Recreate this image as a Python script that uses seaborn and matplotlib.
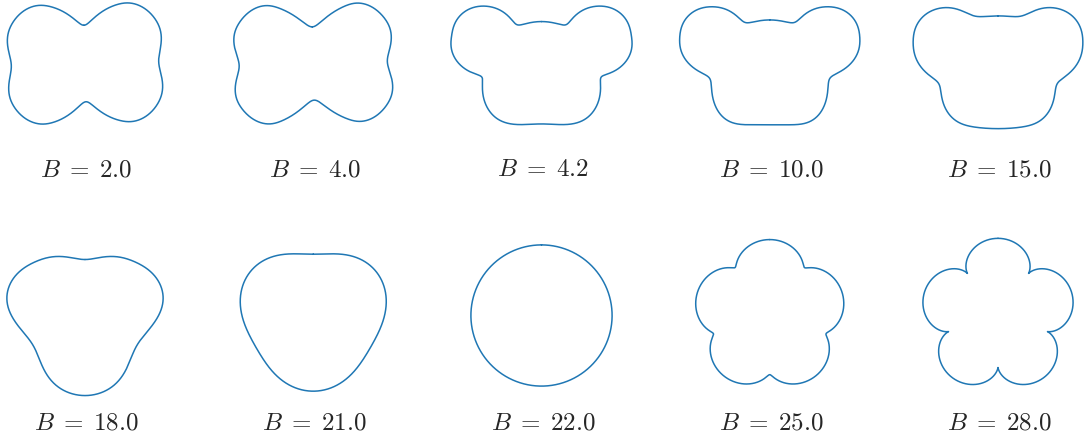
import numpy as np
import pandas as pd
import matplotlib
matplotlib.use('Agg')
import matplotlib.pyplot as plt
import seaborn as sns

sns.set_style('white')
plt.rcParams['mathtext.fontset'] = 'cm'

# valores de B, un contorno por panel
B_values = [2.0, 4.0, 4.2, 10.0, 15.0, 18.0, 21.0, 22.0, 25.0, 28.0]

# contorno w(t) = sum c_k exp(i k t), con w = y + i x (órdenes k y coeficientes c_k)
k_B2 = [-7, -5, -3, -1, 1, 3, 5, 7, 9, 11, 13]
c_B2 = [-0.0198, -0.0149, -0.0934, -0.1274, 1.0161, -0.1040, -0.0698, -0.0050, -0.0131, -0.0055, -0.0089]

k_B4 = [-7, -5, -3, -1, 1, 3, 5, 7, 9, 11, 13]
c_B4 = [-0.0217, -0.0156, -0.1017, -0.1458, 1.0245, -0.1101, -0.0718, 0.0004, -0.0124, -0.0018, -0.0102]

k_B42 = list(range(-5, 14))
c_B42 = [-0.0322, 0.0096, -0.0345, -0.1245, -0.1724, 0.0583, 1.0082, -0.0680, -0.0620, -0.0776,
         0.0020, 0.0431, -0.0093, 0.0188, 0.0250, -0.0056, 0.0019, 0.0139, 0.0036]

k_B10 = list(range(-5, 14))
c_B10 = [-0.0317, 0.0110, -0.0338, -0.1265, -0.1668, 0.0582, 1.0192, -0.0586, -0.0562, -0.0716,
         0.0006, 0.0394, -0.0080, 0.0151, 0.0191, -0.0047, 0.0045, 0.0106, 0.0045]

k_B15 = list(range(-5, 14))
c_B15 = [-0.0218, 0.0089, -0.0285, -0.1049, -0.1234, 0.0313, 1.0184, -0.0347, -0.0411, -0.0604,
         -0.0062, 0.0252, -0.0072, 0.0096, 0.0149, -0.0068, 0.0021, 0.0060, 0.0012]

k_B18 = list(range(-5, 11))
c_B18 = [-0.0150, 0.0051, 0.0085, -0.0926, -0.0185, -0.0225, 1.0088, -0.0032, -0.0061, -0.0566,
         0.0, 0.0065, -0.0043, -0.0031, -0.0039, -0.0052]

k_B21 = list(range(-5, 11))
c_B21 = [-0.0043, -0.0022, -0.0052, -0.0574, -0.0118, -0.0061, 1.0037, -0.0038, -0.0052, -0.0298,
         -0.0032, -0.0012, -0.0013, -0.0008, -0.0005, -0.0007]

k_B22 = [1]
c_B22 = [1.0]

k_B25 = [1, 6]
c_B25 = [1.0, 0.124]

k_B28 = [1, 6, 11]
c_B28 = [1.0, 0.198, 0.0184]

# pequeño giro (grados, sentido horario) de las dos primeras formas
tilt_deg = [1.6, 1.6, 0, 0, 0, 0, 0, 0, 0, 0]

orders = [k_B2, k_B4, k_B42, k_B10, k_B15, k_B18, k_B21, k_B22, k_B25, k_B28]
coefs = [c_B2, c_B4, c_B42, c_B10, c_B15, c_B18, c_B21, c_B22, c_B25, c_B28]


def contour(ks, cs, tilt):
    """
    Contorno cerrado a partir de los coeficientes, escalado para que su área
    sea la del círculo unidad.
    """
    t = np.linspace(0, 2 * np.pi, 2001)
    w = np.exp(1j * np.outer(t, ks)) @ np.asarray(cs)
    w = w * np.exp(-1j * np.deg2rad(tilt))
    x, y = w.imag, w.real
    area = 0.5 * abs(np.sum(x[:-1] * y[1:] - x[1:] * y[:-1]))
    k = np.sqrt(np.pi / area)
    return pd.DataFrame({'x': x * k, 'y': y * k})


def main():
    W, H = 1085, 441
    R = 70.6                  # radio en px del círculo de igual área
    col_x = [85, 313.25, 541.5, 769.75, 998]
    row_y = [63.5, 315.5]
    base_y = [176, 430]
    half_w, half_h = 112, 100

    fig = plt.figure(figsize=(W / 100, H / 100), dpi=100)

    for i, b in enumerate(B_values):
        r_i, c_i = divmod(i, 5)
        cx, cy = col_x[c_i], row_y[r_i]
        ax = fig.add_axes([(cx - half_w) / W, 1 - (cy + half_h) / H,
                           2 * half_w / W, 2 * half_h / H])
        df = contour(orders[i], coefs[i], tilt_deg[i])
        sns.lineplot(data=df, x='x', y='y', sort=False, estimator=None, ax=ax,
                     color='#1f77b4', linewidth=1.1)
        ax.set_xlim(-half_w / R, half_w / R)
        ax.set_ylim(-half_h / R, half_h / R)
        ax.axis('off')
        ax.text(1.5 / R, -(base_y[r_i] - cy) / R, rf'$B\;=\;{b:.1f}$',
                ha='center', va='baseline', fontsize=18)

    fig.savefig('out.png', dpi=100)


if __name__ == '__main__':
    main()
